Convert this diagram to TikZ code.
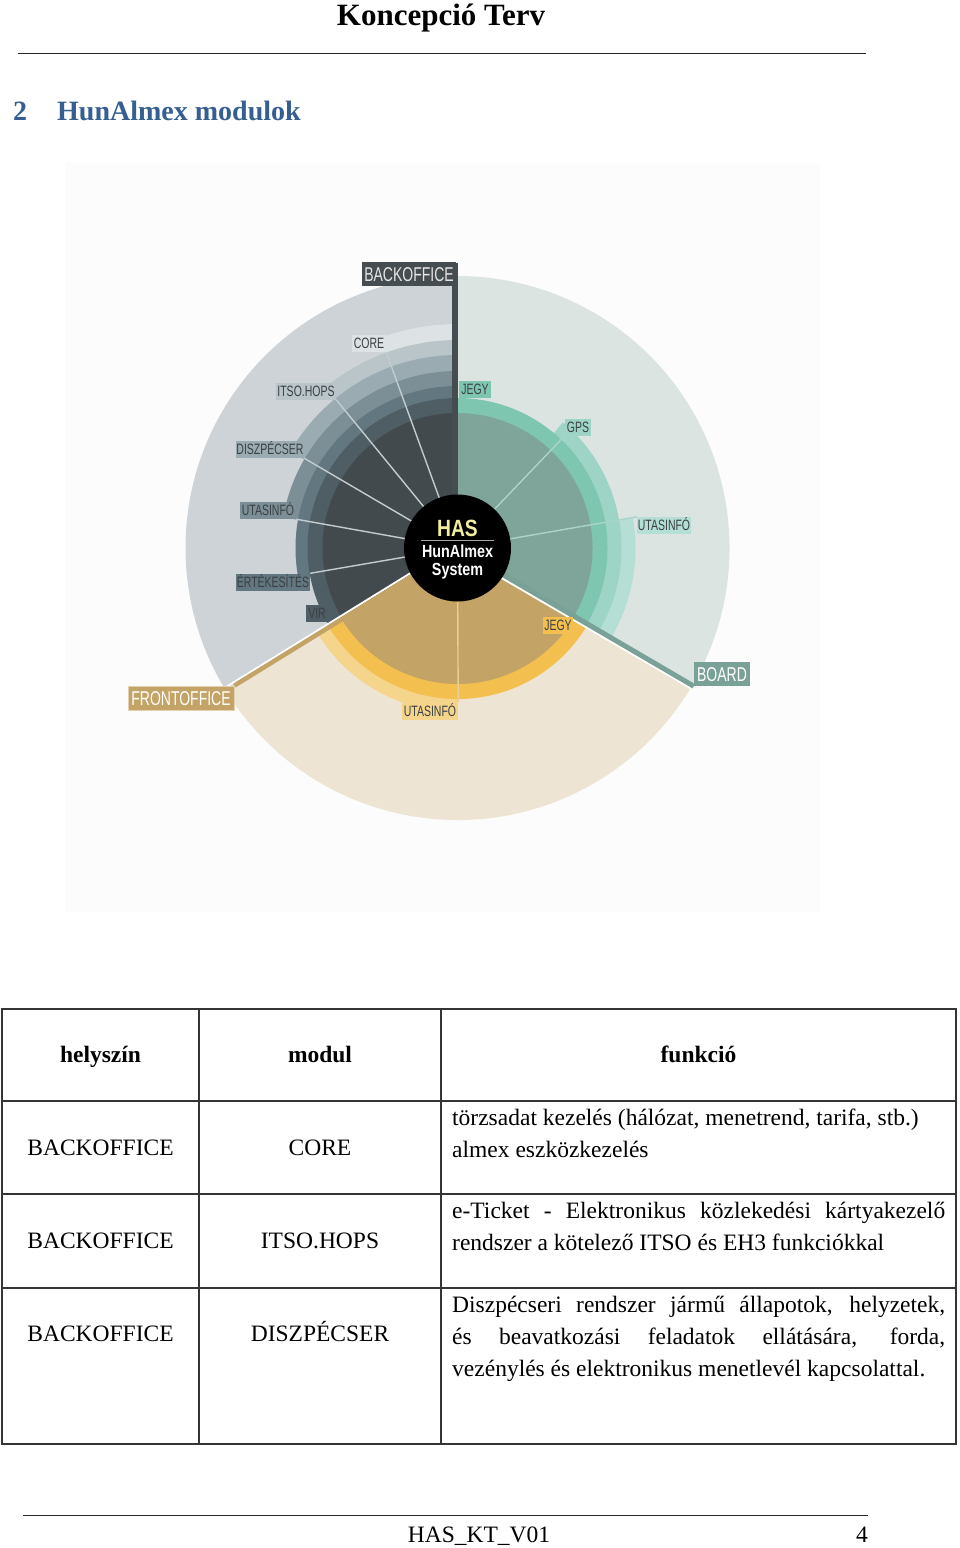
\documentclass[tikz,border=0pt]{standalone}
\usepackage{fontspec}
\setmainfont{Liberation Serif}
\newfontfamily\condf[FakeStretch=0.7]{Liberation Sans}
\newfontfamily\hasf[FakeStretch=0.82]{Liberation Sans}
\pgfdeclarelayer{bg}
\pgfdeclarelayer{ln}
\pgfsetlayers{bg,ln,main}
\definecolor{diagbg}{HTML}{FCFCFC}
\definecolor{boOut}{HTML}{CDD3D6}
\definecolor{boC1}{HTML}{DDE3E4}
\definecolor{boC2}{HTML}{B9C5C9}
\definecolor{boC3}{HTML}{9AABB1}
\definecolor{boC4}{HTML}{7C8F96}
\definecolor{boC5}{HTML}{627780}
\definecolor{boC6}{HTML}{4F5E64}
\definecolor{boCore}{HTML}{424A4D}
\definecolor{boBar}{HTML}{464D50}
\definecolor{bdOut}{HTML}{DCE4E2}
\definecolor{bdC1}{HTML}{7FC6B1}
\definecolor{bdC2}{HTML}{9DD4C6}
\definecolor{bdC3}{HTML}{B5DED4}
\definecolor{bdCore}{HTML}{7FA59B}
\definecolor{bdLine}{HTML}{7AA197}
\definecolor{frOut}{HTML}{EDE4D3}
\definecolor{frC1}{HTML}{F3C04F}
\definecolor{frC2}{HTML}{F5D48C}
\definecolor{frCore}{HTML}{C4A466}
\definecolor{frLine}{HTML}{C4A466}
\definecolor{lbltxt}{HTML}{3A4043}
\definecolor{spkB}{HTML}{C3CDD0}
\definecolor{spkD}{HTML}{AAD4C9}
\definecolor{spkF}{HTML}{E8CF92}
\definecolor{hasyel}{HTML}{F2EE9E}
\definecolor{headblue}{HTML}{365F91}
\definecolor{tblline}{HTML}{353535}
\newcommand\mysector[4]{\fill[#1] (0,0) -- (#2:#4pt) arc[start angle=#2,end angle=#3,radius=#4pt] -- cycle;}
\begin{document}
\begin{tikzpicture}[x=1pt,y=-1pt,
  lbl/.style={inner sep=0pt, font=\condf\fontsize{15}{15}\selectfont, text=lbltxt, minimum height=17pt, text height=10.8pt, text depth=0pt},
  biglbl/.style={inner sep=0pt, font=\condf\fontsize{20}{20}\selectfont, minimum height=24pt, text height=14.3pt, text depth=0pt},
  spoke/.style={line width=1.4pt},
  tbl/.style={draw=tblline, line width=1.3pt},
  ttext/.style={inner sep=0pt, font=\fontsize{23.5}{23.5}\selectfont},
  thead/.style={inner sep=0pt, font=\bfseries\fontsize{23.5}{23.5}\selectfont},
  hastxt/.style={inner sep=0pt, font=\hasf\bfseries\fontsize{17.5}{17.5}\selectfont, text=white}]
\useasboundingbox (0,0) rectangle (960,1548);

% diagram background and sectors
\begin{pgfonlayer}{bg}
\fill[white] (0,0) rectangle (960,1548);
\fill[diagbg] (65,163) rectangle (820,912);
\begin{scope}[shift={(457.5,548)}]
  % backoffice
  \mysector{boOut}{90}{211.7}{272}
  \mysector{boC1}{90}{110}{224}
  \mysector{boC2}{90}{130}{208}
  \mysector{boC3}{90}{150}{193}
  \mysector{boC4}{90}{170}{177}
  \mysector{boC5}{90}{190}{162}
  \mysector{boC6}{90}{211.7}{150}
  \mysector{boCore}{90}{211.7}{135}
  % board
  \mysector{bdOut}{-30.27}{90}{272}
  \mysector{bdC3}{-30.27}{10}{178}
  \mysector{bdC2}{-30.27}{50}{164}
  \mysector{bdC1}{-30.27}{90}{150}
  \mysector{bdCore}{-30.27}{90}{135}
  % frontoffice
  \mysector{frOut}{211.7}{329.73}{272}
  \mysector{frC2}{211.7}{270}{164}
  \mysector{frC1}{211.7}{329.73}{151}
  \mysector{frCore}{211.7}{329.73}{136}
  % white separators beside the boundary lines
  \begin{scope}[rotate=211.7]
    \draw[white, line width=2pt] (0pt,-3.3pt) -- (272pt,-3.3pt);
  \end{scope}
  \begin{scope}[rotate=-30.27]
    \draw[white, line width=2pt] (0pt,-3.6pt) -- (272pt,-3.6pt);
  \end{scope}
\end{scope}
\end{pgfonlayer}

% header
\node[inner sep=0pt, anchor=base, font=\bfseries\fontsize{31}{31}\selectfont] (title) at (441,25) {Koncepció Terv};
\draw[line width=1pt, black!85] (18,53) -- (866,53);
\node[inner sep=0pt, anchor=base west, text=headblue, font=\bfseries\fontsize{28}{28}\selectfont] (secnum) at (13,120) {2};
\node[inner sep=0pt, anchor=base west, text=headblue, font=\bfseries\fontsize{28}{28}\selectfont] (sectitle) at (57,120) {HunAlmex modulok};

% labels
\node[lbl, fill=boC1, minimum width=34pt] (lcore) at (369,343.5) {CORE};
\node[lbl, fill=boC2, minimum width=60pt] (litso) at (306,391) {ITSO.HOPS};
\node[lbl, fill=boC3, minimum width=68pt] (ldisz) at (270,449.5) {DISZPÉCSER};
\node[lbl, fill=boC4, minimum width=56pt] (lutasb) at (268,510.5) {UTASINFÓ};
\node[lbl, fill=boC5, minimum width=74pt] (lert) at (273,582) {ÉRTÉKESÍTÉS};
\node[lbl, fill=boC6, minimum width=22pt] (lvir) at (317,613.5) {VIR};
\node[lbl, fill=bdC1, minimum width=32pt] (ljegyb) at (475,389.5) {JEGY};
\node[lbl, fill=bdC2, minimum width=26pt] (lgps) at (578,427) {GPS};
\node[lbl, fill=bdC3, minimum width=54pt] (lutasd) at (664,525.5) {UTASINFÓ};
\node[lbl, fill=frC1, minimum width=30pt] (ljegyf) at (558,625.5) {JEGY};
\node[lbl, fill=frC2, minimum width=56pt] (lutasf) at (430,711) {UTASINFÓ};
\node[biglbl, fill=boBar, text=white!90!black, minimum width=94pt] (lback) at (409,274) {BACKOFFICE};
\node[biglbl, fill=frLine, draw=frOut!70!frLine, line width=1pt, text=white!95!frOut, minimum width=106pt] (lfront) at (181,698) {FRONTOFFICE};
\node[biglbl, fill=bdLine, text=white, minimum width=56pt] (lboard) at (722,674) {BOARD};

% center
\node[circle, fill=black, minimum size=107pt, inner sep=0pt] (has) at (457.5,548) {};
\node[inner sep=0pt, anchor=base, font=\hasf\bfseries\fontsize{23.5}{23.5}\selectfont, text=hasyel] (hasT) at (457.5,536) {HAS};
\coordinate (hl1) at (421,540.5);
\coordinate (hl2) at (494,540.5);
\draw[black!35, line width=0.9pt] (hl1) -- (hl2);
\node[hastxt, anchor=base] (hunT) at (457.5,557.5) {HunAlmex};
\node[hastxt, anchor=base] (sysT) at (457.5,575) {System};

% spokes and boundary lines
\begin{pgfonlayer}{ln}
\coordinate (barTop) at (454.5,263);
\coordinate (barBot) at (454.5,548);
\draw[boBar, line width=6pt] (barTop) -- (barBot);
\draw[spoke, spkB] (has.center) -- (lcore.south east);
\draw[spoke, spkB] (has.center) -- (litso.south east);
\draw[spoke, spkB] (has.center) -- (ldisz.south east);
\draw[spoke, spkB] (has.center) -- (lutasb.south east);
\draw[spoke, spkB] (has.center) -- (lert.north east);
\draw[spoke, spkD] (has.center) -- (lgps.south west);
\draw[spoke, spkD] (has.center) -- (lutasd.north west);
\draw[spoke, spkF] (has.center) -- (lutasf.north east);
\draw[frLine, line width=4.5pt] (has.center) -- (lfront.north east);
\draw[bdLine, line width=5pt] (has.center) -- (lboard.south west);
\end{pgfonlayer}

% table
\draw[tbl] (2,1009) rectangle (956,1444);
\draw[tbl] (199,1009) -- (199,1444);
\draw[tbl] (441,1009) -- (441,1444);
\draw[tbl] (2,1101) -- (956,1101);
\draw[tbl] (2,1194) -- (956,1194);
\draw[tbl] (2,1288) -- (956,1288);

\node[thead, anchor=base] (h1) at (100.5,1062) {helyszín};
\node[thead, anchor=base] (h2) at (320,1062) {modul};
\node[thead, anchor=base] (h3) at (698.5,1062) {funkció};

\node[ttext, anchor=base] (r1a) at (100.5,1155) {BACKOFFICE};
\node[ttext, anchor=base] (r1b) at (320,1155) {CORE};
\node[ttext, anchor=base west] (r1c1) at (452,1125) {törzsadat kezelés (hálózat, menetrend, tarifa, stb.)};
\node[ttext, anchor=base west] (r1c2) at (452,1157) {almex eszközkezelés};

\node[ttext, anchor=base] (r2a) at (100.5,1248) {BACKOFFICE};
\node[ttext, anchor=base] (r2b) at (320,1248) {ITSO.HOPS};
\node[ttext, anchor=base west] (r2c1) at (452,1218) {\makebox[493pt][s]{e-Ticket - Elektronikus közlekedési kártyakezelő}};
\node[ttext, anchor=base west] (r2c2) at (452,1250) {rendszer a kötelező ITSO és EH3 funkciókkal};

\node[ttext, anchor=base] (r3a) at (100.5,1341) {BACKOFFICE};
\node[ttext, anchor=base] (r3b) at (320,1341) {DISZPÉCSER};
\node[ttext, anchor=base west] (r3c1) at (452,1312) {\makebox[493pt][s]{Diszpécseri rendszer jármű állapotok, helyzetek,}};
\node[ttext, anchor=base west] (r3c2) at (452,1344) {\makebox[493pt][s]{és beavatkozási feladatok ellátására, forda,}};
\node[ttext, anchor=base west] (r3c3) at (452,1376) {vezénylés és elektronikus menetlevél kapcsolattal.};

% footer
\draw[line width=1pt, black!85] (23,1515) -- (868,1515);
\node[ttext, anchor=base] (foot) at (479,1542) {HAS\_KT\_V01};
\node[ttext, anchor=base east] (pagenum) at (868,1542) {4};
\end{tikzpicture}
\end{document}
